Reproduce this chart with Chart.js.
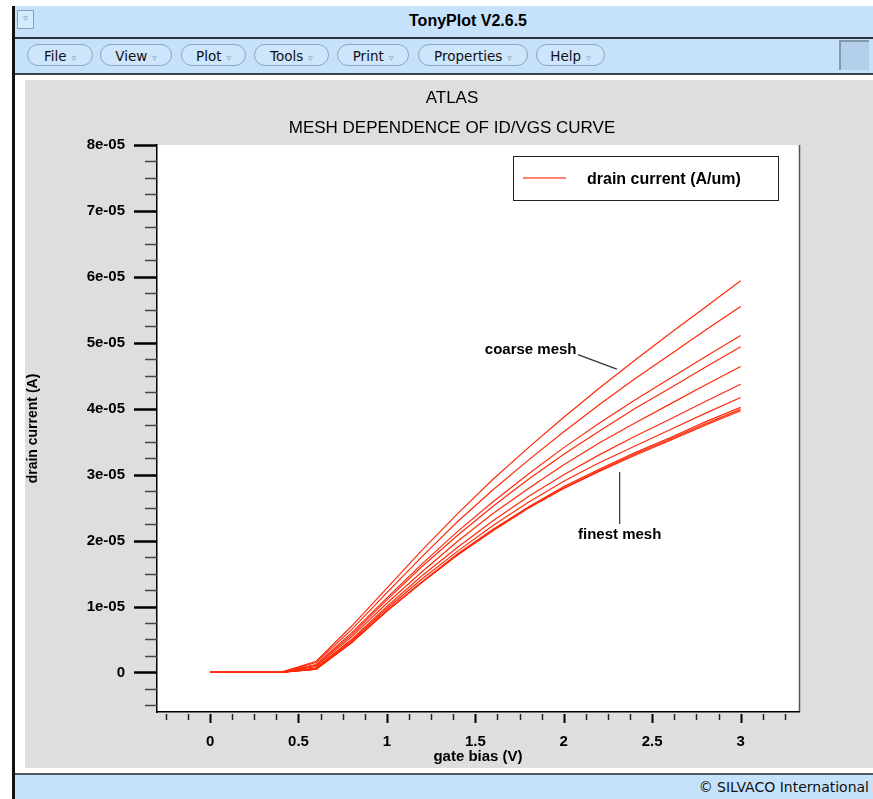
<!DOCTYPE html>
<html>
<head>
<meta charset="utf-8">
<script src="https://cdn.jsdelivr.net/npm/chart.js@4.4.1/dist/chart.umd.min.js"></script>
<style>
  body { margin: 0; width: 873px; height: 799px; background: #fff; position: relative; overflow: hidden; font-family: "Liberation Sans", Arial, sans-serif; }
  .abs { position: absolute; }
  #edge { left: 12px; top: 6px; width: 3px; height: 793px; background: #111; }
  #titlebar { left: 15px; top: 6px; width: 858px; height: 31px; background: #c6e2fb; }
  #titlebar .t { position: absolute; left: 393px; width: 120px; top: 6px; text-align: center; font: bold 16px "Liberation Sans", Arial, sans-serif; color: #000; }
  #winbtn { left: 17px; top: 10px; width: 15px; height: 17px; border: 1px solid #8aa2b8; background: #d4eafd; font: 9px "DejaVu Sans", sans-serif; color: #7a8ea0; text-align: center; line-height: 15px; }
  #sep1 { left: 15px; top: 37px; width: 858px; height: 2px; background: #2a3038; }
  #menubar { left: 15px; top: 39px; width: 858px; height: 34px; background: #c6e2fb; }
  #sep2 { left: 15px; top: 73px; width: 858px; height: 2px; background: #3a4048; }
  .btn { position: absolute; top: 5px; height: 22px; border: 1px solid #8fa6bb; border-radius: 11px; background: #cde6fc; font: 13.5px "DejaVu Sans", sans-serif; color: #111; line-height: 22px; text-align: center; box-sizing: border-box; }
  .btn span { color: #8196aa; font-size: 9px; margin-left: 5px; }
  #sq { left: 839px; top: 40px; width: 30px; height: 30px; background: #b3cfe9; border-left: 2px solid #8399ad; border-top: 2px solid #8399ad; box-sizing: border-box; }
  #panel { left: 25px; top: 80px; width: 848px; height: 688px; background: #dedede; }
  #sep3 { left: 15px; top: 773px; width: 858px; height: 2px; background: #555b62; }
  #footer { left: 15px; top: 775px; width: 858px; height: 24px; background: #c6e2fb; }
  #footer .t { position: absolute; right: 4px; top: 4px; font: 14px "DejaVu Sans", sans-serif; color: #111; }
  .ttl { left: 25px; width: 854px; text-align: center; font: 17px "Liberation Sans", Arial, sans-serif; color: #000; }
  canvas { position: absolute; left: 0; top: 0; }
</style>
</head>
<body>
<div class="abs" id="edge"></div>
<div class="abs" id="titlebar"><div class="t">TonyPlot V2.6.5</div></div>
<div class="abs" id="winbtn">&#9663;</div>
<div class="abs" id="sep1"></div>
<div class="abs" id="menubar">
  <div class="btn" style="left:12px;width:66px">File<span>&#9663;</span></div>
  <div class="btn" style="left:85px;width:72px">View<span>&#9663;</span></div>
  <div class="btn" style="left:166px;width:65px">Plot<span>&#9663;</span></div>
  <div class="btn" style="left:239px;width:75px">Tools<span>&#9663;</span></div>
  <div class="btn" style="left:322px;width:72px">Print<span>&#9663;</span></div>
  <div class="btn" style="left:403px;width:110px">Properties<span>&#9663;</span></div>
  <div class="btn" style="left:521px;width:69px">Help<span>&#9663;</span></div>
</div>
<div class="abs" id="sq"></div>
<div class="abs" id="sep2"></div>
<div class="abs" id="panel"><canvas id="chart" width="848" height="688"></canvas></div>
<div class="abs ttl" style="top:88px">ATLAS</div>
<div class="abs ttl" style="top:118px">MESH DEPENDENCE OF ID/VGS CURVE</div>
<div class="abs" id="sep3"></div>
<div class="abs" id="footer"><div class="t">&copy; SILVACO International</div></div>

<script>
// gate bias (V)
const gateBias = [0, 0.2, 0.4, 0.6, 0.8, 1.0, 1.2, 1.4, 1.6, 1.8, 2.0, 2.2, 2.4, 2.6, 2.8, 3.0];

// drain current in units of 1e-05 A, coarse mesh first, finest mesh last
const mesh1  = [0, 0, 0, 0.17, 0.70, 1.28, 1.86, 2.41, 2.93, 3.41, 3.87, 4.31, 4.73, 5.14, 5.54, 5.94];
const mesh2  = [0, 0, 0, 0.15, 0.65, 1.21, 1.76, 2.29, 2.77, 3.22, 3.65, 4.06, 4.45, 4.82, 5.19, 5.55];
const mesh3  = [0, 0, 0, 0.12, 0.60, 1.13, 1.65, 2.14, 2.59, 3.01, 3.41, 3.78, 4.13, 4.46, 4.79, 5.11];
const mesh4  = [0, 0, 0, 0.11, 0.57, 1.10, 1.61, 2.08, 2.52, 2.93, 3.31, 3.66, 4.00, 4.31, 4.63, 4.94];
const mesh5  = [0, 0, 0, 0.09, 0.54, 1.05, 1.53, 1.99, 2.41, 2.79, 3.15, 3.48, 3.78, 4.07, 4.36, 4.64];
const mesh6  = [0, 0, 0, 0.07, 0.50, 1.00, 1.47, 1.90, 2.30, 2.67, 3.00, 3.30, 3.58, 3.84, 4.11, 4.37];
const mesh7  = [0, 0, 0, 0.06, 0.48, 0.97, 1.42, 1.84, 2.23, 2.58, 2.90, 3.18, 3.43, 3.68, 3.93, 4.17];
const mesh8  = [0, 0, 0, 0.05, 0.46, 0.94, 1.38, 1.80, 2.17, 2.51, 2.82, 3.08, 3.33, 3.56, 3.80, 4.02];
const mesh9  = [0, 0, 0, 0.05, 0.45, 0.93, 1.37, 1.79, 2.16, 2.50, 2.80, 3.06, 3.31, 3.54, 3.77, 3.99];
const mesh10 = [0, 0, 0, 0.05, 0.45, 0.93, 1.37, 1.78, 2.15, 2.49, 2.79, 3.05, 3.29, 3.52, 3.75, 3.97];
const allMeshes = [mesh1, mesh2, mesh3, mesh4, mesh5, mesh6, mesh7, mesh8, mesh9, mesh10];

const xTicks = [0, 0.5, 1, 1.5, 2, 2.5, 3];
const xTickLabels = ['0', '0.5', '1', '1.5', '2', '2.5', '3'];
const yTicks = [0, 1, 2, 3, 4, 5, 6, 7, 8];
const yTickLabels = ['0', '1e-05', '2e-05', '3e-05', '4e-05', '5e-05', '6e-05', '7e-05', '8e-05'];
const seriesName = 'drain current (A/um)';

// text labels with leader lines, placed in data coordinates like TonyPlot does
const notes = [
  { text: 'coarse mesh', at: [2.072, 4.90], align: 'right', line: [[2.08, 4.82], [2.30, 4.60]] },
  { text: 'finest mesh', at: [2.316, 2.09], align: 'center', line: [[2.316, 2.25], [2.316, 3.04]] }
];

const red = '#ff2a0a';
const boldFont = { family: '"Liberation Sans", Arial, sans-serif', size: 15, weight: 'bold' };

const frame = {
  id: 'frame',
  beforeDraw(chart) {
    const { ctx, chartArea: a } = chart;
    ctx.save();
    ctx.fillStyle = '#fff';
    ctx.fillRect(a.left, a.top, a.right - a.left, a.bottom - a.top);
    ctx.strokeStyle = '#555';
    ctx.lineWidth = 1.5;
    ctx.beginPath();
    ctx.moveTo(a.right + 0.5, a.top);
    ctx.lineTo(a.right + 0.5, a.bottom);
    ctx.stroke();
    ctx.restore();
  },
  afterDraw(chart) {
    const { ctx, chartArea: a } = chart;
    const xs = chart.scales.x, ys = chart.scales.y;
    ctx.save();
    // x ticks
    for (let k = -2; k <= 26; k++) {
      const v = k * 0.125;
      const px = Math.round(xs.getPixelForValue(v)) + 0.5;
      const major = k % 4 === 0;
      ctx.strokeStyle = major ? '#000' : '#222';
      ctx.lineWidth = major ? 2 : 1.5;
      ctx.beginPath();
      ctx.moveTo(px, a.bottom + 2);
      ctx.lineTo(px, a.bottom + (major ? 11 : 8));
      ctx.stroke();
    }
    // y ticks
    for (let k = -2; k <= 32; k++) {
      const v = k * 0.25;
      const py = Math.round(ys.getPixelForValue(v)) + 0.5;
      const major = k % 4 === 0;
      ctx.strokeStyle = major ? '#000' : '#444';
      ctx.lineWidth = major ? 2.5 : 1.5;
      ctx.beginPath();
      ctx.moveTo(a.left - (major ? 23 : 12), py);
      ctx.lineTo(a.left, py);
      ctx.stroke();
    }
    // legend box
    const bx = a.right - 286, by = a.top + 11, bw = 265, bh = 44;
    ctx.fillStyle = '#fff';
    ctx.fillRect(bx, by, bw, bh);
    ctx.strokeStyle = '#222';
    ctx.lineWidth = 1;
    ctx.strokeRect(bx + 0.5, by + 0.5, bw, bh);
    ctx.strokeStyle = '#ff5a3c';
    ctx.lineWidth = 1.5;
    ctx.beginPath();
    ctx.moveTo(bx + 10, by + 22);
    ctx.lineTo(bx + 53, by + 22);
    ctx.stroke();
    ctx.fillStyle = '#000';
    ctx.font = 'bold 16px "Liberation Sans", Arial, sans-serif';
    ctx.textAlign = 'left';
    ctx.textBaseline = 'middle';
    ctx.fillText(seriesName, bx + 74, by + 24);
    // notes
    ctx.font = 'bold 15px "Liberation Sans", Arial, sans-serif';
    notes.forEach(n => {
      ctx.strokeStyle = '#333';
      ctx.lineWidth = 1.2;
      ctx.beginPath();
      ctx.moveTo(xs.getPixelForValue(n.line[0][0]), ys.getPixelForValue(n.line[0][1]));
      ctx.lineTo(xs.getPixelForValue(n.line[1][0]), ys.getPixelForValue(n.line[1][1]));
      ctx.stroke();
      ctx.textAlign = n.align;
      ctx.fillText(n.text, xs.getPixelForValue(n.at[0]), ys.getPixelForValue(n.at[1]));
    });
    ctx.restore();
  }
};

new Chart(document.getElementById('chart'), {
  type: 'line',
  data: {
    datasets: allMeshes.map((m, i) => ({
      label: i === 0 ? seriesName : 'mesh ' + (i + 1),
      data: gateBias.map((v, j) => ({ x: v, y: m[j] })),
      borderColor: red,
      borderWidth: 1.2,
      pointRadius: 0,
      tension: 0,
      fill: false
    }))
  },
  options: {
    responsive: false,
    animation: false,
    devicePixelRatio: 1,
    layout: { padding: { top: 65, right: 74, left: 0, bottom: 0 } },
    plugins: { legend: { display: false }, tooltip: { enabled: false } },
    scales: {
      x: {
        type: 'linear',
        position: 'bottom',
        min: -0.3,
        max: 3.33,
        afterBuildTicks: s => { s.ticks = xTicks.map(v => ({ value: v })); },
        afterFit: s => { s.height = 56; },
        grid: { display: false, drawTicks: false },
        border: { display: true, color: '#000', width: 1.5 },
        ticks: { font: boldFont, color: '#000', padding: 21, maxRotation: 0, autoSkip: false,
                 callback: (v, i) => xTickLabels[i] },
        title: { display: true, text: 'gate bias (V)', font: boldFont, color: '#000', padding: { top: 0, bottom: 2 } }
      },
      y: {
        type: 'linear',
        min: -0.6,
        max: 8,
        afterBuildTicks: s => { s.ticks = yTicks.map(v => ({ value: v })); },
        afterFit: s => { s.width = 132; },
        grid: { display: false, drawTicks: false },
        border: { display: true, color: '#000', width: 1.5 },
        ticks: { font: boldFont, color: '#000', padding: 32, autoSkip: false,
                 callback: (v, i) => yTickLabels[i] },
        title: { display: true, text: 'drain current (A)', font: { ...boldFont, size: 14 }, color: '#000', padding: 0 }
      }
    }
  },
  plugins: [frame]
});
</script>
</body>
</html>
